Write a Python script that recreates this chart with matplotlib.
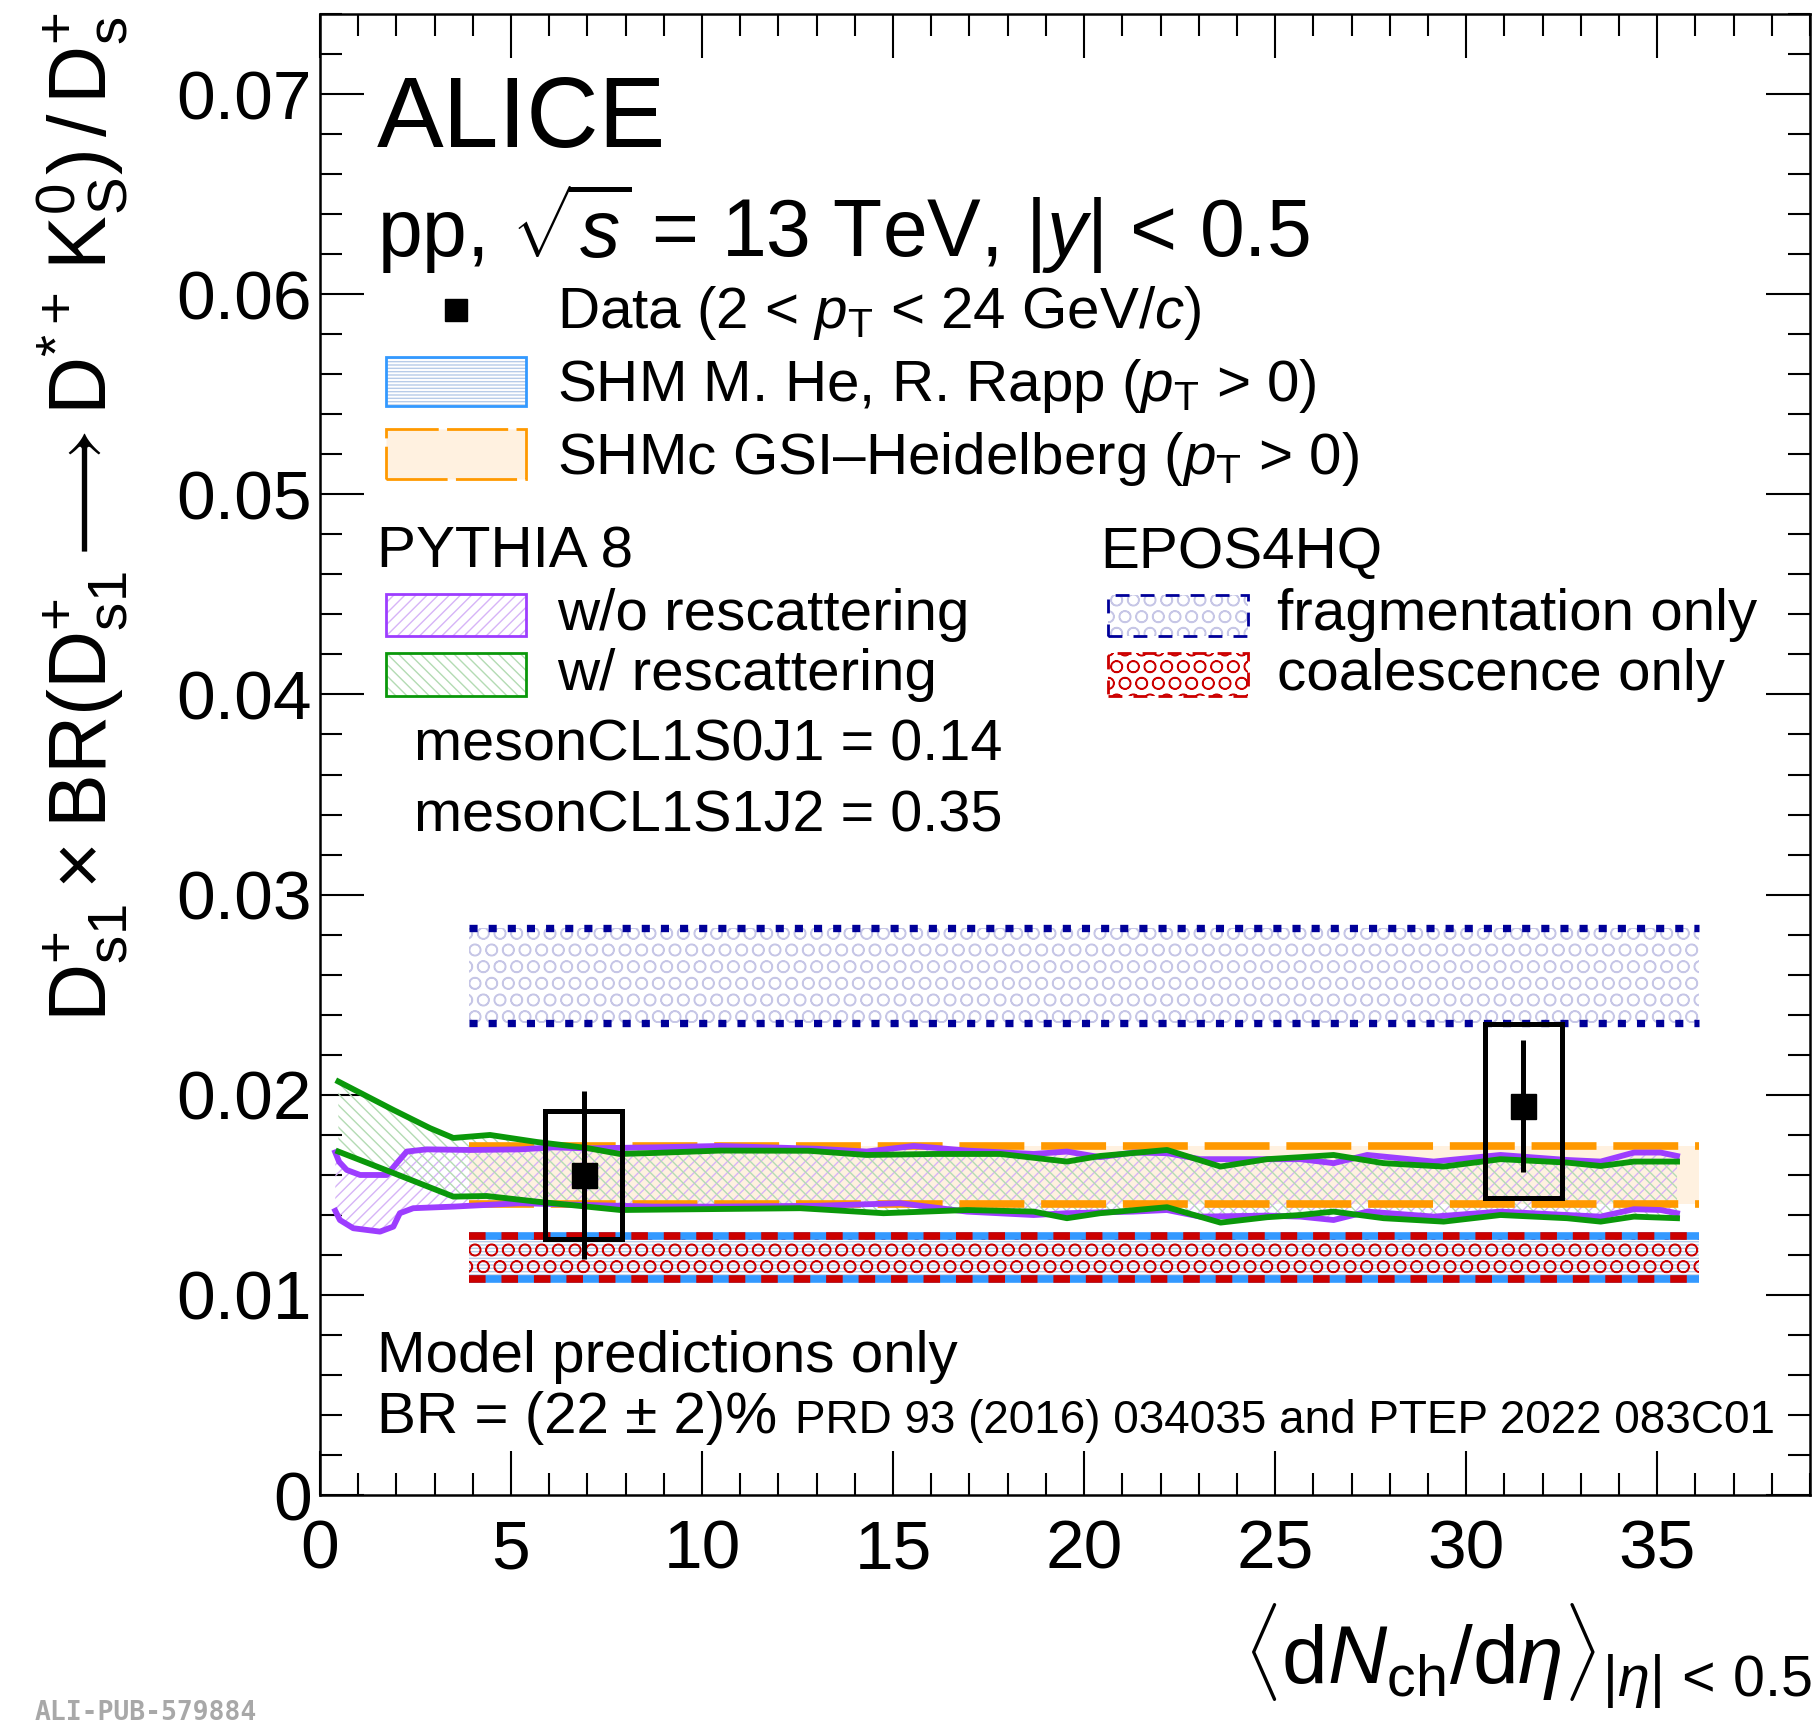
import numpy as np
import matplotlib
matplotlib.use("Agg")
import matplotlib.pyplot as plt
from matplotlib.patches import Rectangle
from matplotlib.lines import Line2D
from matplotlib.ticker import MultipleLocator

# ---------------- data ----------------
mult = [6.9, 31.5]
ratio = [0.0160, 0.01943]
stat_err = [0.0042, 0.0033]
syst_lo = [0.0032, 0.0046]
syst_hi = [0.0032, 0.0041]
syst_halfwidth = [1.0, 1.0]

band_x = [3.9, 36.1]
shm_rapp = [0.01077, 0.01294]
shmc_gsi = [0.01456, 0.01746]
epos_frag = [0.02357, 0.02832]
epos_coal = [0.01077, 0.01294]

py_wo_up_x = [0.40, 0.50, 0.70, 1.05, 1.75, 2.01, 2.27, 2.79, 3.93, 5.24, 6.11, 6.98, 8.73,
              10.47, 13.0, 14.31, 15.54, 16.93, 18.68, 19.55, 20.42, 21.29, 22.17, 23.04,
              24.79, 25.66, 26.53, 27.41, 29.15, 30.90, 32.64, 33.52, 34.39, 35.09, 35.52]
py_wo_up_y = [0.01712, 0.01665, 0.01624, 0.01599, 0.01599, 0.01658, 0.01716, 0.01727, 0.01724,
              0.01727, 0.01737, 0.01732, 0.01737, 0.01744, 0.01730, 0.01716, 0.01744, 0.01721,
              0.01704, 0.01716, 0.01688, 0.01711, 0.01708, 0.01678, 0.01678, 0.01678, 0.01658,
              0.01699, 0.01666, 0.01699, 0.01674, 0.01666, 0.01711, 0.01711, 0.01694]
py_wo_lo_x = [0.40, 0.52, 0.87, 1.57, 1.92, 2.09, 2.44, 3.49, 5.24, 6.98, 8.73, 10.47, 13.0,
              15.19, 16.93, 18.68, 19.55, 21.29, 22.17, 23.04, 24.79, 25.66, 26.53, 27.41,
              29.15, 30.90, 32.64, 33.52, 34.39, 35.09, 35.52]
py_wo_lo_y = [0.01420, 0.01374, 0.01333, 0.01316, 0.01341, 0.01408, 0.01433, 0.01441, 0.01458,
              0.01449, 0.01441, 0.01441, 0.01445, 0.01458, 0.01416, 0.01399, 0.01408, 0.01416,
              0.01424, 0.01391, 0.01396, 0.01391, 0.01374, 0.01416, 0.01391, 0.01416, 0.01399,
              0.01391, 0.01428, 0.01424, 0.01408]

py_w_up_x = [0.48, 1.92, 2.88, 3.49, 4.45, 5.67, 6.98, 7.85, 8.73, 10.47, 12.8, 14.31, 16.06,
             17.81, 19.55, 20.42, 22.17, 23.57, 24.79, 25.66, 26.53, 27.84, 29.41, 30.90,
             32.64, 33.52, 34.39, 35.52]
py_w_up_y = [0.02066, 0.01924, 0.01833, 0.01784, 0.01799, 0.01764, 0.01734, 0.01704, 0.01709,
             0.01721, 0.01720, 0.01699, 0.01704, 0.01704, 0.01666, 0.01694, 0.01724, 0.01641,
             0.01678, 0.01688, 0.01699, 0.01658, 0.01641, 0.01678, 0.01661, 0.01644, 0.01666,
             0.01666]
py_w_lo_x = [0.48, 1.92, 3.49, 4.36, 5.67, 6.98, 7.86, 10.47, 12.57, 14.75, 16.93, 18.68,
             19.55, 20.42, 22.17, 23.57, 24.79, 25.66, 26.53, 27.84, 29.41, 30.90, 32.64,
             33.52, 34.39, 35.52]
py_w_lo_y = [0.01716, 0.01609, 0.01491, 0.01494, 0.01466, 0.01441, 0.01424, 0.01429, 0.01433,
             0.01408, 0.01424, 0.01416, 0.01383, 0.01408, 0.01438, 0.01361, 0.01388, 0.01399,
             0.01416, 0.01383, 0.01366, 0.01399, 0.01383, 0.01366, 0.01391, 0.01383]

xticks = [0, 5, 10, 15, 20, 25, 30, 35]
xticklabels = ["0", "5", "10", "15", "20", "25", "30", "35"]
yticks = [0.0, 0.01, 0.02, 0.03, 0.04, 0.05, 0.06, 0.07]
yticklabels = ["0", "0.01", "0.02", "0.03", "0.04", "0.05", "0.06", "0.07"]

# ---------------- style ----------------
plt.rcParams["font.family"] = ["Liberation Sans", "DejaVu Sans"]
plt.rcParams["mathtext.fontset"] = "custom"
plt.rcParams["mathtext.rm"] = "Liberation Sans"
plt.rcParams["mathtext.it"] = "Liberation Sans:italic"
plt.rcParams["mathtext.bf"] = "Liberation Sans:bold"
plt.rcParams["hatch.linewidth"] = 1.0

C_PURPLE = "#9d3dff"
C_PURPLE_H = "#d6b4f7"
C_GREEN = "#0a980a"
C_GREEN_H = "#b3dbb3"
C_ORANGE = "#ff9900"
C_ORANGE_F = "#fff1e0"
C_BLUE = "#3399ff"
C_BLUE_H = "#b7cbe8"
C_NAVY = "#000099"
C_NAVY_H = "#c6c6e6"
C_RED = "#cc0000"

W, H = 1819, 1726
fig = plt.figure(figsize=(W / 100, H / 100), dpi=100)
ax = fig.add_axes([320 / W, 1 - 1495 / H, (1810 - 320) / W, (1495 - 14) / H])
ax.set_xlim(0, 39)
ax.set_ylim(0, 0.074)

# ---------------- model bands ----------------
# SHMc GSI-Heidelberg
ax.fill_between(band_x, [shmc_gsi[0]] * 2, [shmc_gsi[1]] * 2, facecolor=C_ORANGE_F,
                edgecolor="none", lw=0, zorder=1)
for yv in shmc_gsi:
    ax.plot(band_x, [yv, yv], color=C_ORANGE, lw=5.5, ls=(0, (8.5, 2.2)),
            solid_capstyle="butt", dash_capstyle="butt", zorder=3.5)

# SHM He-Rapp
ax.fill_between(band_x, [shm_rapp[0]] * 2, [shm_rapp[1]] * 2, facecolor="none",
                edgecolor=C_BLUE_H, hatch="-----", lw=0, zorder=2)
for yv in shm_rapp:
    ax.plot(band_x, [yv, yv], color=C_BLUE, lw=5.5, solid_capstyle="butt", zorder=2.4)

# EPOS4HQ coalescence
ax.fill_between(band_x, [epos_coal[0]] * 2, [epos_coal[1]] * 2, facecolor="none",
                edgecolor=C_RED, hatch="O", lw=0, zorder=2.1)
for yv in epos_coal:
    ax.plot(band_x, [yv, yv], color=C_RED, lw=5.5, ls=(0, (2.17, 2.08)),
            dash_capstyle="butt", zorder=2.5)

# EPOS4HQ fragmentation
ax.fill_between(band_x, [epos_frag[0]] * 2, [epos_frag[1]] * 2, facecolor="none",
                edgecolor=C_NAVY_H, hatch="O", lw=0, zorder=2)
for yv in epos_frag:
    ax.plot(band_x, [yv, yv], color=C_NAVY, lw=5.3, ls=(0, (1.1, 1.5)),
            dash_capstyle="butt", zorder=2.5)

# PYTHIA w/o rescattering
ax.fill(py_wo_up_x + py_wo_lo_x[::-1], py_wo_up_y + py_wo_lo_y[::-1], facecolor="none",
        edgecolor=C_PURPLE_H, hatch="///", lw=0, zorder=3)
ax.plot(py_wo_up_x, py_wo_up_y, color=C_PURPLE, lw=4.2, zorder=4, solid_joinstyle="round")
ax.plot(py_wo_lo_x, py_wo_lo_y, color=C_PURPLE, lw=4.2, zorder=4, solid_joinstyle="round")

# PYTHIA w/ rescattering
ax.fill(py_w_up_x + py_w_lo_x[::-1], py_w_up_y + py_w_lo_y[::-1], facecolor="none",
        edgecolor=C_GREEN_H, hatch="\\\\\\", lw=0, zorder=3)
ax.plot(py_w_up_x, py_w_up_y, color=C_GREEN, lw=4.2, zorder=4.1, solid_joinstyle="round")
ax.plot(py_w_lo_x, py_w_lo_y, color=C_GREEN, lw=4.2, zorder=4.1, solid_joinstyle="round")

# ---------------- data ----------------
for xm, ym, lo, hi, hw in zip(mult, ratio, syst_lo, syst_hi, syst_halfwidth):
    ax.add_patch(Rectangle((xm - hw, ym - lo), 2 * hw, lo + hi, facecolor="none",
                           edgecolor="black", lw=3.6, zorder=6))
ax.errorbar(mult, ratio, yerr=stat_err, fmt="s", color="black", ms=18, elinewidth=3.6,
            capsize=0, zorder=7)

# ---------------- axes ----------------
ax.set_xticks(xticks)
ax.set_xticklabels(xticklabels)
ax.set_yticks(yticks)
ax.set_yticklabels(yticklabels)
ax.xaxis.set_minor_locator(MultipleLocator(1))
ax.yaxis.set_minor_locator(MultipleLocator(0.002))
ax.tick_params(which="both", direction="in", top=True, right=True, width=1.5)
ax.tick_params(which="major", length=32)
ax.tick_params(which="minor", length=16)
ax.tick_params(axis="x", which="major", labelsize=50, pad=17)
ax.tick_params(axis="y", which="major", labelsize=50, pad=6)
for sp in ax.spines.values():
    sp.set_linewidth(1.8)


def ftext(X, Y, s, size, **kw):
    kw.setdefault("va", "baseline")
    kw.setdefault("ha", "left")
    fig.text(X / W, 1 - Y / H, s, fontsize=size, **kw)


# axis titles
ftext(82, 12, r"$\mathrm{D}^{+}_{\mathrm{s1}}\times\mathrm{BR}(\mathrm{D}^{+}_{\mathrm{s1}}"
      r"\longrightarrow\mathrm{D}^{*+}\,\mathrm{K}^{0}_{\mathrm{S}})\,/\,\mathrm{D}^{+}_{\mathrm{s}}$",
      58, rotation=90, ha="center", va="top")
ftext(1812, 1684, r"$\langle\mathrm{d}N_{\mathrm{ch}}/\mathrm{d}\eta\rangle_{|\eta|\,<\,0.5}$",
      59, ha="right")

# header
ftext(377, 147, "ALICE", 72)
ftext(377, 257, r"pp, $\sqrt{s}$ = 13 TeV, |$y$| < 0.5", 58)

# legend texts
LS = 42
ftext(557, 328, r"Data (2 < $p_{\mathrm{T}}$ < 24 GeV/$c$)", LS)
ftext(557, 401, r"SHM M. He, R. Rapp ($p_{\mathrm{T}}$ > 0)", LS)
ftext(557, 474, r"SHMc GSI–Heidelberg ($p_{\mathrm{T}}$ > 0)", LS)
ftext(377, 568, "PYTHIA 8", LS)
ftext(557, 630, "w/o rescattering", LS)
ftext(557, 690, "w/ rescattering", LS)
ftext(414, 760, "mesonCL1S0J1 = 0.14", 41.5)
ftext(414, 831, "mesonCL1S1J2 = 0.35", 41.5)
ftext(1100, 568, "EPOS4HQ", LS)
ftext(1277, 630, "fragmentation only", LS)
ftext(1277, 690, "coalescence only", LS)
ftext(377, 1372, "Model predictions only", LS)
ftext(377, 1433, "BR = (22 ± 2)%", LS)
ftext(795, 1433, "PRD 93 (2016) 034035 and PTEP 2022 083C01", 33)

# watermark
ftext(35, 1700, "ALI-PUB-579884", 19, va="top", family="DejaVu Sans Mono",
      weight="bold", color="#a8a8a8")


# legend symbols
def frect(X0, Y0, X1, Y1, **kw):
    r = Rectangle((X0 / W, 1 - Y1 / H), (X1 - X0) / W, (Y1 - Y0) / H,
                  transform=fig.transFigure, **kw)
    fig.add_artist(r)


fig.add_artist(Line2D([456 / W], [1 - 310 / H], marker="s", ms=16, color="black",
                      transform=fig.transFigure))
# SHM He-Rapp
frect(386, 357, 526, 406, facecolor="none", edgecolor=C_BLUE_H, hatch="-----", lw=0)
frect(386, 357, 526, 406, facecolor="none", edgecolor=C_BLUE, lw=2.0)
# SHMc
frect(386, 429, 526, 479, facecolor=C_ORANGE_F, edgecolor=C_ORANGE, lw=2.0,
      ls=(0, (22, 3)))
# PYTHIA
frect(386, 594, 526, 636, facecolor="none", edgecolor=C_PURPLE_H, hatch="///", lw=0)
frect(386, 594, 526, 636, facecolor="none", edgecolor=C_PURPLE, lw=2.0)
frect(386, 653, 526, 696, facecolor="none", edgecolor=C_GREEN_H, hatch="\\\\\\", lw=0)
frect(386, 653, 526, 696, facecolor="none", edgecolor=C_GREEN, lw=2.0)
# EPOS
frect(1108, 595, 1248, 636, facecolor="none", edgecolor=C_NAVY_H, hatch="O", lw=0)
frect(1108, 595, 1248, 636, facecolor="none", edgecolor=C_NAVY, lw=2.0, ls=(0, (5, 4)))
frect(1108, 653, 1248, 696, facecolor="none", edgecolor=C_RED, hatch="O", lw=0)
frect(1108, 653, 1248, 696, facecolor="none", edgecolor=C_RED, lw=2.0, ls=(0, (5, 4)))

fig.savefig("out.png", dpi=100)
